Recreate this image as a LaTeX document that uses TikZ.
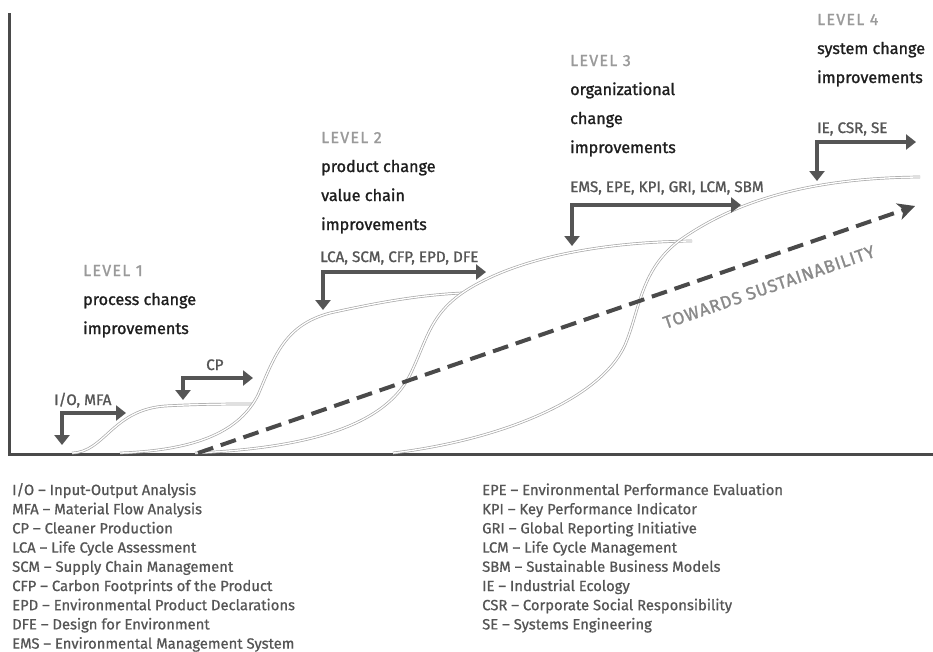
\documentclass[tikz,border=0pt]{standalone}
\usepackage{fontspec}
\setmainfont{Fira Sans}
\newfontfamily\medfont{Fira Sans}[FakeBold=1.3]
\newfontfamily\lightmedfont{Fira Sans}[FakeBold=0.8]
\usetikzlibrary{arrows.meta}
\definecolor{axisgray}{HTML}{4A4A4A}
\definecolor{arrowgray}{HTML}{555555}
\definecolor{levelgray}{HTML}{9A9A9A}
\definecolor{curvegray}{HTML}{A8A8A8}
\definecolor{inkblack}{HTML}{1E1E1E}
\definecolor{legendgray}{HTML}{555555}
\definecolor{towardgray}{HTML}{8A8A8A}
\begin{document}
\begin{tikzpicture}[x=1pt,y=-1pt,
  axisline/.style={draw=axisgray,line width=3pt},
  scurve/.style={draw=curvegray,line width=0.7pt,double=white,double distance=1.3pt},
  steparrow/.style={draw=arrowgray,line width=3.5pt,
    {Triangle[length=10pt,width=15pt]}-{Triangle[length=10pt,width=15pt]}},
  trend/.style={draw=axisgray,line width=4pt,dash pattern=on 16pt off 8pt,
    -{Stealth[length=17pt,width=17pt,inset=5pt]}},
  leveltag/.style={anchor=base west,inner sep=0pt,text=levelgray,
    font=\medfont\fontsize{16}{18}\selectfont\addfontfeatures{LetterSpace=8}},
  leveltext/.style={anchor=base west,inner sep=0pt,text=inkblack,
    font=\medfont\fontsize{16.2}{18}\selectfont},
  abbrev/.style={anchor=base west,inner sep=0pt,text=arrowgray,
    font=\medfont\fontsize{15.2}{16}\selectfont},
  legend/.style={anchor=base west,inner sep=0pt,text=legendgray,
    font=\lightmedfont\fontsize{14.8}{16}\selectfont}
]
\useasboundingbox (0,0) rectangle (933,651);

% axes
\coordinate (ytop) at (9,13);
\coordinate (origin) at (9,454);
\coordinate (xend) at (933,454);
\draw[axisline] (ytop) -- (origin) -- (xend);

% S-curves of the four levels
\draw[scurve] (72,453) .. controls (105,452) and (112,410) .. (165,406)
  .. controls (200,404) and (230,404) .. (252,404);
\draw[scurve] (120,453) .. controls (200,450) and (240,430) .. (258,395)
  .. controls (275,355) and (285,325) .. (330,313)
  .. controls (380,302) and (420,295) .. (462,293);
\draw[scurve] (195,453) .. controls (310,448) and (385,425) .. (410,375)
  .. controls (428,338) and (430,312) .. (470,288)
  .. controls (520,258) and (600,242) .. (692,241);
\draw[scurve] (393,453) .. controls (500,440) and (600,400) .. (625,345)
  .. controls (640,310) and (640,270) .. (680,240)
  .. controls (730,205) and (800,178) .. (920,177);

% trend arrow
\coordinate (trendstart) at (198,453);
\coordinate (trendend) at (915,206);
\draw[trend] (trendstart) -- (trendend);
\node[rotate=19,text=towardgray,inner sep=0pt,
  font=\medfont\fontsize{17.5}{18}\selectfont\addfontfeatures{LetterSpace=5}] (towards) at (769,287) {TOWARDS SUSTAINABILITY};

% tool arrows
\coordinate (a1d) at (62,445);  \coordinate (a1r) at (126,413);
\coordinate (a2d) at (183,400); \coordinate (a2r) at (253,378);
\coordinate (a3d) at (323,310); \coordinate (a3r) at (486,272);
\coordinate (a4d) at (572,246); \coordinate (a4r) at (741,205);
\coordinate (a5d) at (817,181); \coordinate (a5r) at (916,142);
\draw[steparrow] (a1d) |- (a1r);
\draw[steparrow] (a2d) |- (a2r);
\draw[steparrow] (a3d) |- (a3r);
\draw[steparrow] (a4d) |- (a4r);
\draw[steparrow] (a5d) |- (a5r);

\node[abbrev] (t1) at (54,405) {I/O, MFA};
\node[abbrev] (t2) at (206,370) {CP};
\node[abbrev] (t3) at (320,262) {LCA, SCM, CFP, EPD, DFE};
\node[abbrev] (t4) at (570,192) {EMS, EPE, KPI, GRI, LCM, SBM};
\node[abbrev] (t5) at (817,133) {IE, CSR, SE};

% level headings
\node[leveltag]  (l1)  at (83,276) {LEVEL 1};
\node[leveltext] (l1a) at (83,305) {process change};
\node[leveltext] (l1b) at (83,334) {improvements};

\node[leveltag]  (l2)  at (321,143) {LEVEL 2};
\node[leveltext] (l2a) at (321,172) {product change};
\node[leveltext] (l2b) at (321,201) {value chain};
\node[leveltext] (l2c) at (321,230) {improvements};

\node[leveltag]  (l3)  at (570,66)  {LEVEL 3};
\node[leveltext] (l3a) at (570,95)  {organizational};
\node[leveltext] (l3b) at (570,124) {change};
\node[leveltext] (l3c) at (570,153) {improvements};

\node[leveltag]  (l4)  at (817,25) {LEVEL 4};
\node[leveltext] (l4a) at (817,54) {system change};
\node[leveltext] (l4b) at (817,83) {improvements};

% legend
\foreach \t [count=\i from 0] in {
  {I/O – Input-Output Analysis},
  {MFA – Material Flow Analysis},
  {CP – Cleaner Production},
  {LCA – Life Cycle Assessment},
  {SCM – Supply Chain Management},
  {CFP – Carbon Footprints of the Product},
  {EPD – Environmental Product Declarations},
  {DFE – Design for Environment},
  {EMS – Environmental Management System}}
  \node[legend] (legL\i) at (12,{495+19.2*\i}) {\t};
\foreach \t [count=\i from 0] in {
  {EPE – Environmental Performance Evaluation},
  {KPI – Key Performance Indicator},
  {GRI – Global Reporting Initiative},
  {LCM – Life Cycle Management},
  {SBM – Sustainable Business Models},
  {IE – Industrial Ecology},
  {CSR – Corporate Social Responsibility},
  {SE – Systems Engineering}}
  \node[legend] (legR\i) at (482,{495+19.2*\i}) {\t};
\end{tikzpicture}
\end{document}
